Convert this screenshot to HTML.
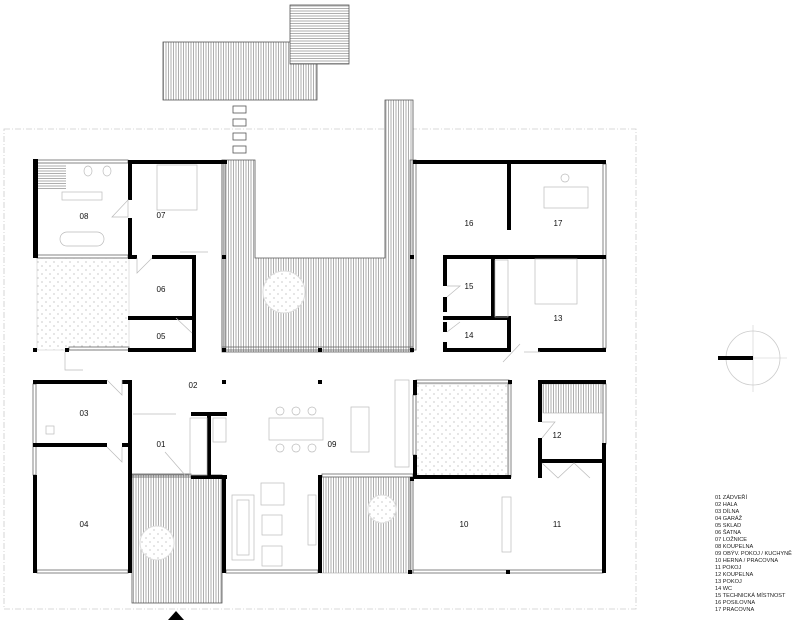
<!DOCTYPE html>
<html><head><meta charset="utf-8"><style>
html,body{margin:0;padding:0;background:#fff;}
svg{display:block;}
text{font-family:"Liberation Sans",sans-serif;}
</style></head><body>
<svg width="800" height="626" viewBox="0 0 800 626" xmlns="http://www.w3.org/2000/svg">
<defs>
<pattern id="vh" width="2.5" height="10" patternUnits="userSpaceOnUse"><rect width="2.5" height="10" fill="#fff"/><line x1="1" y1="0" x2="1" y2="10" stroke="#999" stroke-width="0.8"/></pattern>
<pattern id="hh" width="10" height="2.5" patternUnits="userSpaceOnUse"><rect width="10" height="2.5" fill="#fff"/><line x1="0" y1="1" x2="10" y2="1" stroke="#999" stroke-width="0.8"/></pattern>
<pattern id="dt" width="8" height="8" patternUnits="userSpaceOnUse"><rect width="8" height="8" fill="#fff"/><circle cx="2" cy="2" r="0.6" fill="#aaa"/><circle cx="6" cy="6" r="0.6" fill="#aaa"/></pattern>
</defs>
<rect x="4" y="129" width="632" height="480" fill="none" stroke="#ccc" stroke-width="0.8" stroke-dasharray="6,2,1,2"/>
<rect x="163" y="42" width="154" height="58" fill="url(#vh)" stroke="#555" stroke-width="0.8"/>
<rect x="290" y="5" width="59" height="59" fill="url(#hh)" stroke="#555" stroke-width="0.8"/>
<g fill="#fff" stroke="#555" stroke-width="0.8">
<rect x="233" y="106" width="13" height="7"/><rect x="233" y="119" width="13" height="7"/><rect x="233" y="133" width="13" height="7"/><rect x="233" y="146" width="13" height="7"/>
</g>
<path d="M222,160 H255 V258 H385 V100 H413 V352 H222 Z" fill="url(#vh)" stroke="#555" stroke-width="0.8"/>
<circle cx="284" cy="292" r="21" fill="url(#dt)" stroke="#ddd"/>
<rect x="132" y="475" width="90" height="128" fill="url(#vh)" stroke="#555" stroke-width="0.8"/>
<circle cx="157" cy="543" r="17" fill="url(#dt)" stroke="#ddd"/>
<rect x="320" y="477" width="93" height="96" fill="url(#vh)" stroke="#aaa" stroke-width="0.6"/>
<circle cx="382" cy="509" r="14" fill="url(#dt)" stroke="#ddd"/>
<rect x="37" y="258" width="92" height="92" fill="url(#dt)" stroke="#ccc" stroke-width="0.6"/>
<rect x="416" y="384" width="93" height="93" fill="url(#dt)" stroke="#ccc" stroke-width="0.6"/>
<rect x="38" y="165" width="28" height="24" fill="url(#hh)"/>
<rect x="543" y="384" width="60" height="29" fill="url(#vh)" stroke="#aaa" stroke-width="0.6"/>
<g stroke="#666" stroke-width="0.8" fill="none">
<rect x="37" y="160" width="91" height="3"/>
<rect x="37" y="255" width="91" height="3"/>
<rect x="69" y="347" width="60" height="3"/>
<rect x="222" y="347" width="191" height="3"/>
<rect x="222" y="160" width="3" height="190"/>
<rect x="410" y="160" width="3" height="190"/>
<rect x="413" y="160" width="3" height="190"/>
<rect x="603" y="164" width="3" height="184"/>
<rect x="33" y="384" width="3" height="91"/>
<rect x="37" y="570" width="91" height="3"/>
<rect x="132" y="474" width="59" height="3"/>
<rect x="226" y="570" width="92" height="3"/>
<rect x="322" y="474" width="91" height="3"/>
<rect x="416" y="380" width="93" height="3"/>
<rect x="508" y="384" width="3" height="93"/>
<rect x="413" y="395" width="3" height="60"/>
<rect x="410" y="477" width="3" height="96"/>
<rect x="413" y="570" width="190" height="3"/>
<rect x="603" y="384" width="3" height="60"/>
</g>
<g fill="#000">
<rect x="33" y="159" width="5" height="99"/>
<rect x="128" y="160" width="99" height="4"/>
<rect x="128" y="160" width="4" height="40"/>
<rect x="128" y="218" width="4" height="40"/>
<rect x="128" y="255" width="9" height="4"/>
<rect x="152" y="255" width="44" height="4"/>
<rect x="192" y="255" width="4" height="96"/>
<rect x="128" y="316" width="68" height="4"/>
<rect x="128" y="348" width="68" height="4"/>
<rect x="33" y="348" width="4" height="4"/><rect x="65" y="348" width="4" height="4"/>
<rect x="222" y="255" width="4" height="4"/><rect x="222" y="348" width="4" height="4"/><rect x="318" y="348" width="4" height="4"/><rect x="410" y="348" width="4" height="4"/><rect x="410" y="255" width="4" height="4"/>
<rect x="413" y="160" width="193" height="4"/>
<rect x="507" y="160" width="4" height="70"/>
<rect x="443" y="255" width="163" height="4"/>
<rect x="443" y="255" width="4" height="31"/><rect x="443" y="297" width="4" height="15"/>
<rect x="443" y="322" width="4" height="10"/><rect x="443" y="342" width="4" height="10"/>
<rect x="491" y="258" width="4" height="60"/>
<rect x="443" y="316" width="68" height="4"/>
<rect x="507" y="316" width="4" height="36"/>
<rect x="443" y="348" width="68" height="4"/>
<rect x="538" y="348" width="68" height="4"/>
<rect x="602" y="160" width="4" height="4"/><rect x="602" y="255" width="4" height="4"/>
<rect x="33" y="380" width="74" height="4"/><rect x="122" y="380" width="10" height="4"/>
<rect x="128" y="380" width="4" height="193"/>
<rect x="33" y="443" width="74" height="4"/><rect x="122" y="443" width="6" height="4"/>
<rect x="33" y="475" width="4" height="98"/>
<rect x="191" y="412" width="36" height="4"/>
<rect x="207" y="412" width="4" height="65"/>
<rect x="191" y="475" width="36" height="4"/>
<rect x="222" y="475" width="4" height="98"/>
<rect x="318" y="475" width="4" height="98"/>
<rect x="222" y="380" width="4" height="4"/><rect x="318" y="380" width="4" height="4"/>
<rect x="413" y="380" width="4" height="15"/><rect x="413" y="455" width="4" height="23"/>
<rect x="413" y="475" width="98" height="4"/>
<rect x="508" y="380" width="4" height="4"/>
<rect x="538" y="380" width="68" height="4"/>
<rect x="538" y="380" width="4" height="42"/><rect x="538" y="438" width="4" height="40"/>
<rect x="538" y="459" width="68" height="4"/>
<rect x="602" y="443" width="4" height="130"/>
<rect x="408" y="570" width="4" height="4"/><rect x="506" y="570" width="4" height="4"/>
<rect x="410" y="477" width="4" height="4"/>
</g>
<g fill="none" stroke="#bbb" stroke-width="0.7">
<rect x="157" y="165" width="40" height="45"/>
<rect x="62" y="192" width="40" height="8"/>
<ellipse cx="88" cy="171" rx="4" ry="5"/><ellipse cx="107" cy="171" rx="4" ry="5"/>
<rect x="60" y="232" width="44" height="14" rx="7"/>
<rect x="544" y="187" width="44" height="21"/><circle cx="565" cy="178" r="4"/>
<rect x="535" y="259" width="42" height="45"/>
<rect x="46" y="426" width="8" height="8"/>
<rect x="269" y="418" width="54" height="22"/>
<circle cx="280" cy="411" r="4"/><circle cx="296" cy="411" r="4"/><circle cx="312" cy="411" r="4"/>
<circle cx="280" cy="448" r="4"/><circle cx="296" cy="448" r="4"/><circle cx="312" cy="448" r="4"/>
<rect x="351" y="407" width="18" height="45"/>
<rect x="395" y="380" width="14" height="87"/>
<rect x="232" y="495" width="22" height="65"/><rect x="237" y="500" width="12" height="55"/>
<rect x="261" y="483" width="23" height="22"/><rect x="262" y="515" width="20" height="20"/><rect x="262" y="546" width="20" height="20"/>
<rect x="308" y="495" width="8" height="50"/>
<rect x="502" y="497" width="9" height="55"/>
<rect x="190" y="418" width="17" height="57"/><rect x="213" y="418" width="13" height="24"/>
<rect x="495" y="260" width="13" height="57"/>
<line x1="133" y1="414" x2="176" y2="414"/>
<line x1="180" y1="252" x2="208" y2="252"/>
<path d="M112,217 L128,200 V217 Z"/>
<path d="M137,258 L137,273 L152,258"/>
<path d="M176,318 L192,333"/>
<path d="M107,380 L122,395 V380"/>
<path d="M107,447 L122,462 V447"/>
<path d="M165,452 L185,475"/>
<path d="M65,352 V370 L83,370"/>
<path d="M447,286 L460,286 L447,297"/>
<path d="M447,332 L460,322"/>
<path d="M542,422 L555,422 L542,438"/>
<path d="M524,352 L540,352"/>
<path d="M542,463 L558,478 L574,463 L590,478"/>
<path d="M503,362 L520,344"/>
</g>
<g font-size="8" fill="#111" text-anchor="middle">
<text x="84" y="219">08</text><text x="161" y="218">07</text>
<text x="161" y="292">06</text><text x="161" y="339">05</text>
<text x="193" y="388">02</text><text x="84" y="416">03</text>
<text x="161" y="447">01</text><text x="84" y="527">04</text>
<text x="332" y="447">09</text>
<text x="469" y="226">16</text><text x="558" y="226">17</text>
<text x="469" y="289">15</text><text x="558" y="321">13</text>
<text x="469" y="338">14</text><text x="557" y="438">12</text>
<text x="464" y="527">10</text><text x="557" y="527">11</text>
</g>
<circle cx="753" cy="358" r="27" fill="none" stroke="#ccc" stroke-width="0.8"/>
<line x1="753" y1="325" x2="753" y2="392" stroke="#ccc" stroke-width="0.6"/>
<line x1="753" y1="358" x2="787" y2="358" stroke="#ccc" stroke-width="0.6"/>
<rect x="718" y="356" width="35" height="4" fill="#000"/>
<polygon points="176,611 168,620 184,620" fill="#000"/>
<g font-size="5.6" fill="#222">
<text x="715" y="499">01 ZÁDVEŘÍ</text>
<text x="715" y="506">02 HALA</text>
<text x="715" y="513">03 DÍLNA</text>
<text x="715" y="520">04 GARÁŽ</text>
<text x="715" y="527">05 SKLAD</text>
<text x="715" y="534">06 ŠATNA</text>
<text x="715" y="541">07 LOŽNICE</text>
<text x="715" y="548">08 KOUPELNA</text>
<text x="715" y="555">09 OBÝV. POKOJ / KUCHYNĚ</text>
<text x="715" y="562">10 HERNA / PRACOVNA</text>
<text x="715" y="569">11 POKOJ</text>
<text x="715" y="576">12 KOUPELNA</text>
<text x="715" y="583">13 POKOJ</text>
<text x="715" y="590">14 WC</text>
<text x="715" y="597">15 TECHNICKÁ MÍSTNOST</text>
<text x="715" y="604">16 POSILOVNA</text>
<text x="715" y="611">17 PRACOVNA</text>
</g>
</svg>
</body></html>
